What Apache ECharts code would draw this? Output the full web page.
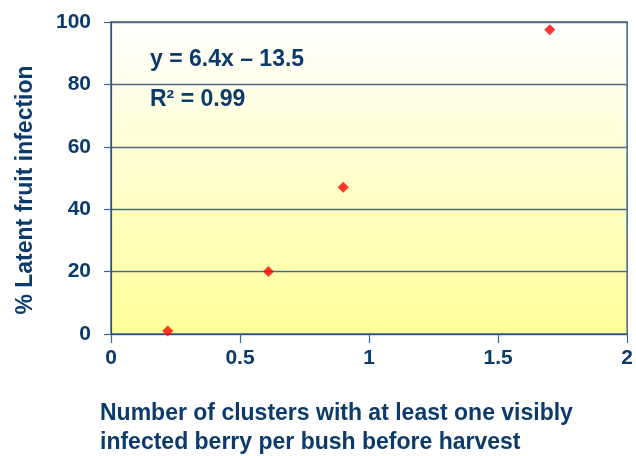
<!DOCTYPE html>
<html><head><meta charset="utf-8">
<script src="https://cdn.jsdelivr.net/npm/echarts@6/dist/echarts.min.js"></script>
<style>html,body{margin:0;padding:0;background:#fff}#c{width:636px;height:456px}</style>
</head><body><div id="c"></div>
<script>
const xValues = [0.22, 0.61, 0.90, 1.70];
const yValues = [1, 20, 47, 97.5];
const xTicks = [0, 0.5, 1, 1.5, 2];
const yTicks = [0, 20, 40, 60, 80, 100];
const yTitle = '% Latent fruit infection';
const xTitleLines = ['Number of clusters with at least one visibly', 'infected berry per bush before harvest'];
const eqLines = ['y = 6.4x \u2013 13.5', 'R\u00b2 = 0.99'];

const navy = '#0b3a6b';
const lineCol = '#3f6290';
const font = 'Liberation Sans, Arial, sans-serif';
const chart = echarts.init(document.getElementById('c'), null, {renderer: 'canvas'});
chart.setOption({
  animation: false,
  grid: {
    left: 111, right: 8, top: 22, bottom: 122, show: true,
    borderColor: lineCol, borderWidth: 1.5,
    backgroundColor: new echarts.graphic.LinearGradient(0, 0, 0, 1, [
      {offset: 0, color: '#ffffff'}, {offset: 1, color: '#ffff99'}])
  },
  xAxis: {
    type: 'value', min: xTicks[0], max: xTicks[xTicks.length - 1], interval: 0.5,
    axisLine: {show: true, lineStyle: {color: '#2b4f7e', width: 1.2}},
    axisTick: {show: true, length: 9, lineStyle: {color: lineCol, width: 1.2}},
    splitLine: {show: false},
    axisLabel: {color: navy, fontSize: 21, fontWeight: 'bold', fontFamily: font, margin: 14}
  },
  yAxis: {
    type: 'value', min: yTicks[0], max: yTicks[yTicks.length - 1], interval: 20,
    axisLine: {show: true, lineStyle: {color: '#2b4f7e', width: 1.2}},
    axisTick: {show: true, length: 7, lineStyle: {color: lineCol, width: 1.2}},
    splitLine: {show: true, lineStyle: {color: '#4e6a82', width: 1.3}},
    axisLabel: {color: navy, fontSize: 21, fontWeight: 'bold', fontFamily: font, margin: 20}
  },
  series: [{
    type: 'scatter', symbol: 'diamond', symbolSize: 11,
    itemStyle: {color: '#ff0000'},
    data: xValues.map((x, i) => [x, yValues[i]])
  }],
  graphic: [
    {type: 'text', x: 26, y: 190, rotation: Math.PI / 2,
      style: {text: yTitle, fill: navy, font: 'bold 23px ' + font, textAlign: 'center', textVerticalAlign: 'middle'}},
    {type: 'text', left: 100, top: 399, style: {text: xTitleLines.join('\n'), fill: navy,
      font: 'bold 23px ' + font, lineHeight: 29}},
    {type: 'text', left: 150, top: 48, style: {text: eqLines[0], fill: navy, font: 'bold 23px ' + font}},
    {type: 'text', left: 150, top: 88, style: {text: eqLines[1], fill: navy, font: 'bold 23px ' + font}}
  ]
});
</script></body></html>
